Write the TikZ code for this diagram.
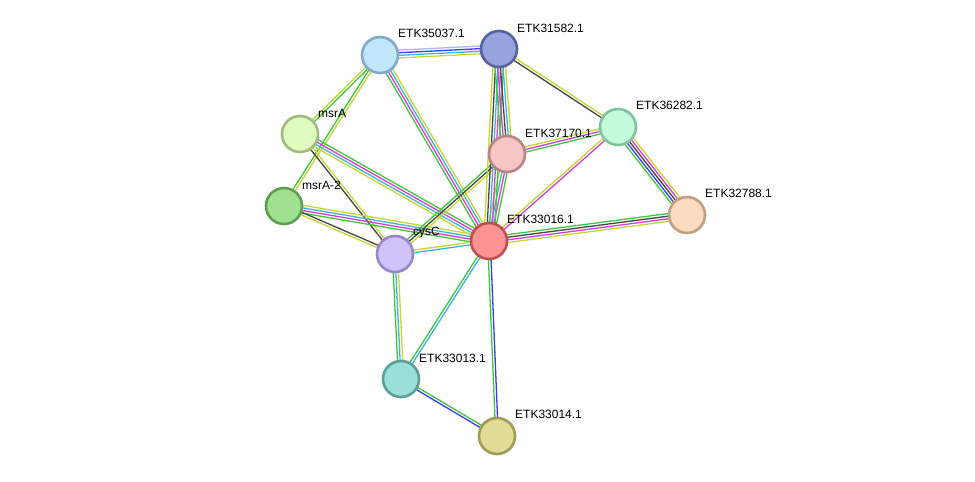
\documentclass[tikz,border=0pt]{standalone}
\usepackage{fontspec}
\setmainfont{Liberation Sans}
\usetikzlibrary{calc,backgrounds}
\definecolor{eG}{HTML}{3CC83C}
\definecolor{eY}{HTML}{C4D82E}
\definecolor{eM}{HTML}{D83CD8}
\definecolor{eC}{HTML}{3CB4DC}
\definecolor{eK}{HTML}{464646}
\definecolor{eB}{HTML}{3C3CF0}
\definecolor{eL}{HTML}{B4B4FA}
\definecolor{fA}{HTML}{C0E6FB}\definecolor{dA}{HTML}{80AAC8}
\definecolor{fB}{HTML}{97A3DD}\definecolor{dB}{HTML}{5562A0}
\definecolor{fC}{HTML}{E0FAC0}\definecolor{dC}{HTML}{A2BB80}
\definecolor{fD}{HTML}{C4FADC}\definecolor{dD}{HTML}{80C29C}
\definecolor{fE}{HTML}{F6C6C6}\definecolor{dE}{HTML}{B88484}
\definecolor{fF}{HTML}{A0E090}\definecolor{dF}{HTML}{5E9E50}
\definecolor{fG}{HTML}{FC9494}\definecolor{dG}{HTML}{C05050}
\definecolor{fH}{HTML}{FCDCBE}\definecolor{dH}{HTML}{C0A080}
\definecolor{fI}{HTML}{D2C2FA}\definecolor{dI}{HTML}{9A86C8}
\definecolor{fJ}{HTML}{9AE0D8}\definecolor{dJ}{HTML}{5C9E98}
\definecolor{fK}{HTML}{E0DC98}\definecolor{dK}{HTML}{A09C58}
\tikzset{
  prot/.style={circle, minimum size=36pt, inner sep=0pt, line width=2.6pt},
  lbl/.style={anchor=west, font=\fontsize{12}{14}\selectfont, inner sep=1pt, text=black},
  edgeln/.style={line width=1.3pt}
}
\newcommand\medge[4]{%
  \foreach \cc [count=\ii] in {#4}{%
    \pgfmathsetmacro\off{(\ii-(#3+1)/2)*2.6}%
    \draw[edgeln,draw=\cc] ($(#1)!\off pt!90:(#2)$) -- ($(#2)!\off pt!-90:(#1)$);
  }}
\begin{document}
\begin{tikzpicture}[x=1pt,y=-1pt]
\useasboundingbox (0,0) rectangle (975,482);
\node[prot, fill=fA, draw=dA] (A) at (380,55) {};
\node[prot, fill=fB, draw=dB] (B) at (499,49) {};
\node[prot, fill=fC, draw=dC] (C) at (300,134) {};
\node[prot, fill=fD, draw=dD] (D) at (618,127) {};
\node[prot, fill=fE, draw=dE] (E) at (507,154) {};
\node[prot, fill=fF, draw=dF] (F) at (284,206) {};
\node[prot, fill=fG, draw=dG] (G) at (489,241) {};
\node[prot, fill=fH, draw=dH] (H) at (687,215) {};
\node[prot, fill=fI, draw=dI] (I) at (395,254) {};
\node[prot, fill=fJ, draw=dJ] (J) at (401,379) {};
\node[prot, fill=fK, draw=dK] (K) at (497,436) {};
\begin{pgfonlayer}{background}
\fill[white] (0,0) rectangle (975,482);
\medge{A}{B}{4}{eY,eC,eB,eL}
\medge{C}{A}{2}{eG,eY}
\medge{F}{A}{2}{eY,eG}
\medge{A}{G}{4}{eG,eM,eC,eY}
\medge{C}{G}{4}{eY,eC,eM,eG}
\medge{C}{I}{2}{eK,eY}
\medge{F}{G}{4}{eG,eM,eC,eY}
\medge{F}{I}{2}{eY,eK}
\medge{I}{G}{2}{eC,eY}
\medge{I}{E}{3}{eY,eK,eG}
\medge{I}{J}{3}{eG,eC,eY}
\medge{G}{J}{2}{eG,eC}
\medge{G}{K}{2}{eG,eB}
\medge{J}{K}{2}{eB,eG}
\medge{G}{H}{4}{eY,eM,eK,eG}
\medge{G}{D}{2}{eM,eY}
\medge{G}{E}{4}{eG,eM,eC,eY}
\medge{G}{B}{5}{eG,eM,eC,eK,eY}
\medge{B}{E}{5}{eG,eM,eK,eC,eY}
\medge{B}{D}{2}{eK,eY}
\medge{E}{D}{3}{eG,eM,eY}
\medge{D}{H}{5}{eG,eB,eK,eM,eY}
\end{pgfonlayer}
\node[lbl] (lA) at ($(A)+(17,-22)$) {ETK35037.1};
\node[lbl] (lB) at ($(B)+(17,-21)$) {ETK31582.1};
\node[lbl] (lC) at ($(C)+(17,-21)$) {msrA};
\node[lbl] (lD) at ($(D)+(17,-22)$) {ETK36282.1};
\node[lbl] (lE) at ($(E)+(17,-21)$) {ETK37170.1};
\node[lbl] (lF) at ($(F)+(17,-21)$) {msrA-2};
\node[lbl] (lG) at ($(G)+(17,-22)$) {ETK33016.1};
\node[lbl] (lH) at ($(H)+(17,-22)$) {ETK32788.1};
\node[lbl] (lI) at ($(I)+(17,-21)$) {cysC};
\node[lbl] (lJ) at ($(J)+(17,-21)$) {ETK33013.1};
\node[lbl] (lK) at ($(K)+(17,-22)$) {ETK33014.1};
\end{tikzpicture}
\end{document}
